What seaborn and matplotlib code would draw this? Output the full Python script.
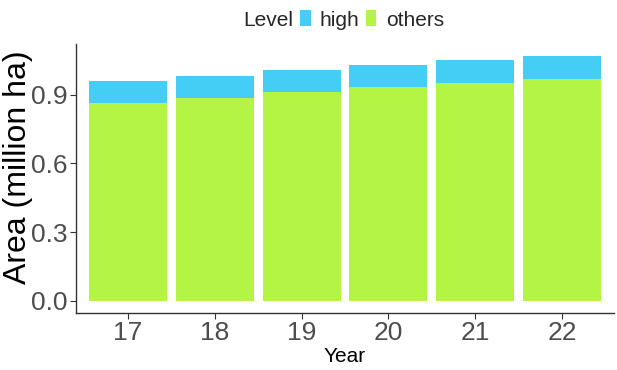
import numpy as np
import pandas as pd
import matplotlib

matplotlib.use("Agg")
import matplotlib.pyplot as plt
import seaborn as sns
from matplotlib.patches import Patch

# values (million ha)
years = ["17", "18", "19", "20", "21", "22"]
others = [0.866, 0.888, 0.914, 0.933, 0.952, 0.970]
high = [0.092, 0.095, 0.093, 0.099, 0.099, 0.100]

BLUE = "#45CEF5"
GREEN = "#B4F444"

sns.set_style("white")
plt.rcParams["font.family"] = ["Liberation Sans", "DejaVu Sans"]

df = pd.DataFrame({"Year": years, "others": others, "high": high})
df["total"] = df["others"] + df["high"]

fig = plt.figure(figsize=(6.17, 3.70), dpi=100)
ax = fig.add_axes([76 / 617, 57 / 370, 538 / 617, 269.4 / 370])

# stacked look: full height in blue, "others" drawn over it in green
sns.barplot(data=df, x="Year", y="total", color=BLUE, saturation=1,
            width=0.9, linewidth=0, ax=ax)
sns.barplot(data=df, x="Year", y="others", color=GREEN, saturation=1,
            width=0.9, linewidth=0, ax=ax)

ax.set_xlim(-0.6, 5.6)
ax.set_ylim(-0.0535, 1.1235)
ax.set_yticks([0.0, 0.3, 0.6, 0.9])
ax.set_yticklabels(["0.0", "0.3", "0.6", "0.9"])

for side in ["top", "right"]:
    ax.spines[side].set_visible(False)
for side in ["left", "bottom"]:
    ax.spines[side].set_color("#333333")
    ax.spines[side].set_linewidth(1.0)

ax.tick_params(axis="both", which="both", length=4, width=0.8, color="#333333",
               labelsize=19, labelcolor="#4D4D4D", pad=2,
               left=True, bottom=True)

ax.set_xlabel("Year", fontsize=15, color="black", labelpad=1)
ax.set_ylabel("Area (million ha)", fontsize=23, color="black")
ax.yaxis.set_label_coords(-0.08, 0.54)

# legend across the top: "Level" title on the left, then the keys
fig.text(268 / 617, 1 - 20 / 370, "Level", fontsize=15, ha="center", va="center")
handles = [Patch(facecolor=BLUE, edgecolor="none"),
           Patch(facecolor=GREEN, edgecolor="none")]
fig.legend(handles, ["high", "others"], loc="center",
           bbox_to_anchor=(372 / 617, 1 - 20 / 370), ncol=2, frameon=False,
           fontsize=15, handlelength=0.5, handleheight=0.8,
           handletextpad=0.45, columnspacing=0.3, borderpad=0)

fig.savefig("out.png", dpi=100)
plt.close(fig)
